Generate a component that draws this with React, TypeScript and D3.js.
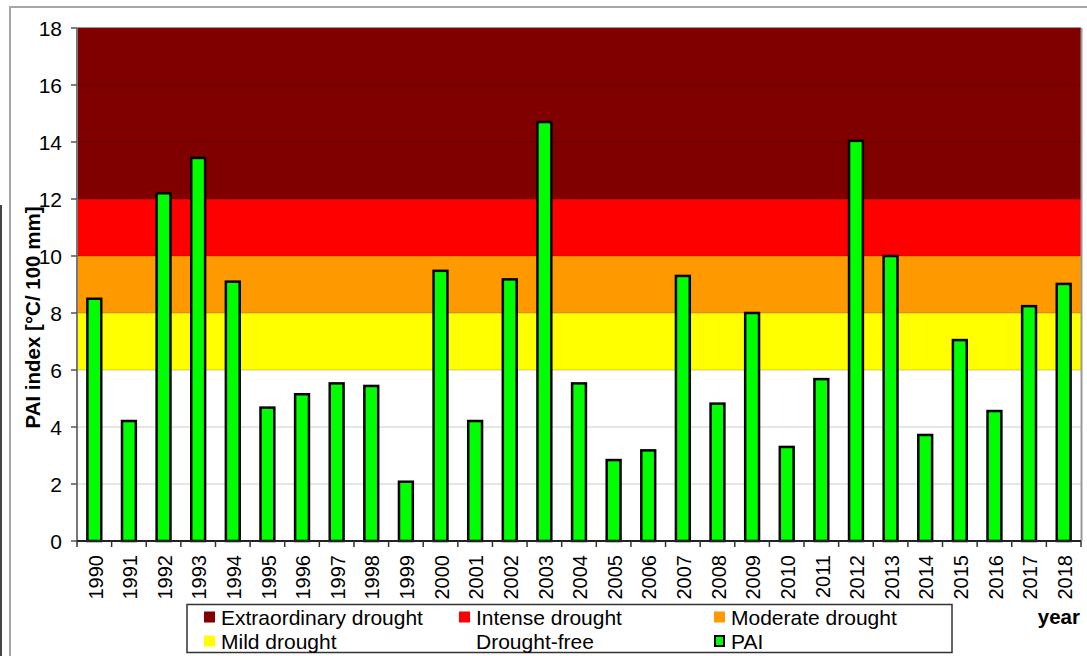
import React from "react";
import { scaleBand, scaleLinear, range } from "d3";

// PAI values
const years = [
  "1990", "1991", "1992", "1993", "1994", "1995", "1996", "1997", "1998", "1999",
  "2000", "2001", "2002", "2003", "2004", "2005", "2006", "2007", "2008", "2009",
  "2010", "2011", "2012", "2013", "2014", "2015", "2016", "2017", "2018",
];
const pai = [
  8.5, 4.21, 12.2, 13.44, 9.1, 4.68, 5.15, 5.53, 5.44, 2.08,
  9.48, 4.21, 9.18, 14.7, 5.53, 2.84, 3.18, 9.3, 4.82, 8.0,
  3.3, 5.68, 14.04, 10.0, 3.72, 7.05, 4.56, 8.24, 9.02,
];

// drought classes (lower, upper bound)
const bandNames = ["Drought-free", "Mild drought", "Moderate drought", "Intense drought", "Extraordinary drought"];
const bandLow = [0, 6, 8, 10, 12];
const bandHigh = [6, 8, 10, 12, 18];
const bandColors = ["#ffffff", "#ffff00", "#ff9900", "#ff0000", "#800000"];

const yTicks = [0, 2, 4, 6, 8, 10, 12, 14, 16, 18];

// legend layout order (row by row, 3 columns)
const legendItems = [
  "Extraordinary drought", "Intense drought", "Moderate drought",
  "Mild drought", "Drought-free", "PAI",
];

const W = 1087;
const H = 656;
const plot = { left: 77, right: 1081, top: 28, bottom: 541 };
const font = "'Liberation Sans', Arial, sans-serif";

const App = () => {
  const x = scaleBand().domain(years).range([plot.left, plot.right]).paddingInner(0.6).paddingOuter(0.3);
  const xTick = scaleBand().domain(years).range([plot.left, plot.right]);
  const y = scaleLinear().domain([0, 18]).range([plot.bottom, plot.top]);

  const colorOf = (name: string) => bandColors[bandNames.indexOf(name)];

  return (
    <svg width={W} height={H} style={{ position: "fixed", left: 0, top: 0, background: "#fff" }} fontFamily={font}>
      {/* outer frame */}
      <rect x={10} y={7} width={W + 10} height={H + 10} fill="none" stroke="#a6a6a6" strokeWidth={2} />
      <line x1={1} x2={1} y1={205} y2={H} stroke="#444" strokeWidth={2} />

      {/* drought bands */}
      {bandNames.map((n, i) => (
        <rect key={n} x={plot.left} width={plot.right - plot.left} y={y(bandHigh[i])} height={y(bandLow[i]) - y(bandHigh[i])} fill={bandColors[i]} />
      ))}

      {/* gridlines */}
      {yTicks.filter((t) => t > 0 && t < 18).map((t) => (
        <line key={t} x1={plot.left} x2={plot.right} y1={y(t)} y2={y(t)} stroke="#000" strokeOpacity={0.2} />
      ))}
      <line x1={plot.left} x2={plot.right} y1={plot.top - 0.5} y2={plot.top - 0.5} stroke="#999" />
      <line x1={plot.right + 0.5} x2={plot.right + 0.5} y1={plot.top} y2={plot.bottom} stroke="#999" strokeWidth={2} />

      {/* bars */}
      {years.map((yr, i) => (
        <rect key={yr} x={x(yr)} y={y(pai[i])} width={x.bandwidth()} height={y(0) - y(pai[i])} fill="#00ff00" stroke="#000" strokeWidth={2.5} />
      ))}

      {/* y axis */}
      <line x1={plot.left} x2={plot.left} y1={plot.top} y2={plot.bottom} stroke="#777" strokeWidth={2} />
      {yTicks.map((t) => (
        <g key={t}>
          <line x1={plot.left - 6} x2={plot.left} y1={y(t)} y2={y(t)} stroke="#555" strokeWidth={1.5} />
          <text x={plot.left - 15} y={y(t)} dy="0.36em" textAnchor="end" fontSize={21}>{t}</text>
        </g>
      ))}
      <text transform={`translate(40,${(plot.top + plot.bottom) / 2 + 33}) rotate(-90)`} textAnchor="middle" fontSize={20.5} fontWeight="bold">
        PAI index [°C/ 100 mm]
      </text>

      {/* x axis */}
      <line x1={plot.left} x2={plot.right} y1={plot.bottom} y2={plot.bottom} stroke="#222" strokeWidth={2} />
      {range(years.length + 1).map((i) => {
        const tx = i < years.length ? xTick(years[i])! : plot.right;
        return <line key={i} x1={tx} x2={tx} y1={plot.bottom} y2={plot.bottom + 6} stroke="#333" strokeWidth={1.5} />;
      })}
      {years.map((yr) => (
        <text key={yr} transform={`translate(${xTick(yr)! + xTick.bandwidth() / 2 + 1},555) rotate(-90)`} textAnchor="end" dy="0.36em" fontSize={20}>
          {yr}
        </text>
      ))}
      <text x={1080} y={624} textAnchor="end" fontSize={20.5} fontWeight="bold">year</text>

      {/* legend */}
      <rect x={187} y={604.5} width={765} height={48} fill="#fff" stroke="#333" strokeWidth={1.5} />
      {legendItems.map((name, i) => {
        const col = i % 3;
        const row = Math.floor(i / 3);
        const sx = [204, 459, 714][col];
        const cy = 617 + row * 24;
        const isPai = name === "PAI";
        const color = isPai ? "#00ff00" : colorOf(name);
        return (
          <g key={name}>
            {isPai ? (
              <rect x={sx + 1} y={cy - 5} width={9} height={10} fill={color} stroke="#000" strokeWidth={2} />
            ) : (
              <rect x={sx} y={cy - 5.5} width={11} height={11} fill={color} />
            )}
            <text x={sx + 17} y={cy} dy="0.36em" fontSize={21}>{name}</text>
          </g>
        );
      })}
    </svg>
  );
};

export default App;
